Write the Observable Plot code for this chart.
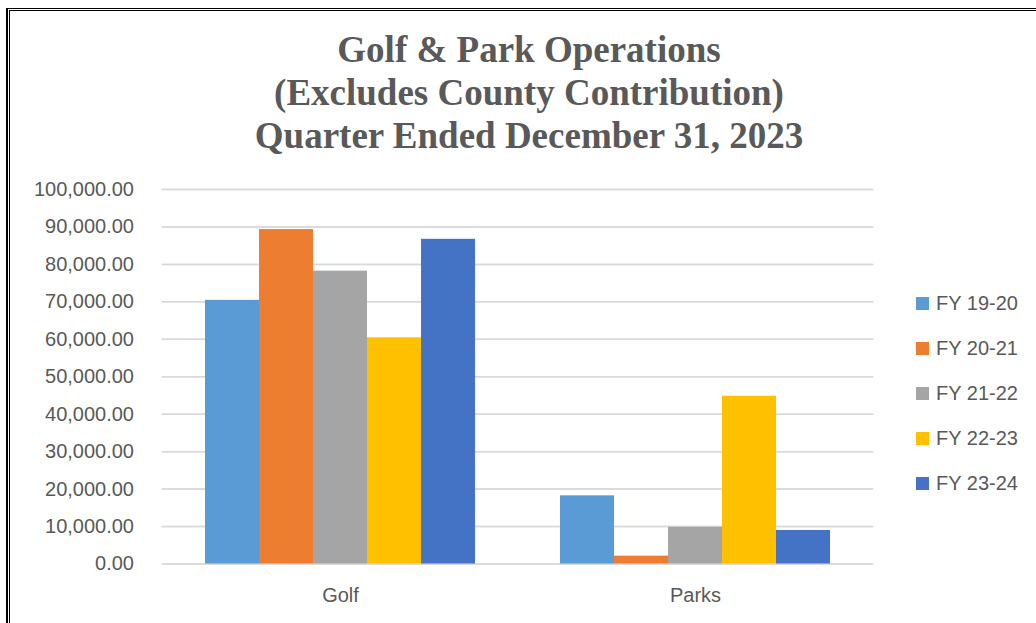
<!DOCTYPE html>
<html>
<head>
<meta charset="utf-8">
<script src="https://cdn.jsdelivr.net/npm/d3@7"></script>
<script src="https://cdn.jsdelivr.net/npm/@observablehq/plot@0.6"></script>
<style>
  html, body { margin: 0; padding: 0; background: #fff; width: 1036px; height: 623px; overflow: hidden; }
  #frame-outer { position: absolute; left: 6px; top: 8px; width: 1100px; height: 700px; border-left: 2px solid #000; border-top: 1px solid #000; }
  #frame-inner { position: absolute; left: 9px; top: 10px; width: 1100px; height: 700px; border-left: 1px solid #000; border-top: 1px solid #000; }
  #title { position: absolute; left: 22px; top: 28px; width: 1014px; text-align: center; font-family: "Liberation Serif", "Times New Roman", serif; font-weight: bold; color: #595959; font-size: 37px; line-height: 43px; }
  #chart { position: absolute; left: 0; top: 160px; }
  #legend { position: absolute; left: 916px; top: 281px; font-family: "Liberation Sans", Arial, sans-serif; font-size: 20px; color: #595959; }
  .item { display: flex; align-items: center; height: 45px; }
  .sw { width: 13px; height: 13px; margin-right: 7px; }
</style>
</head>
<body>
<div id="frame-outer"></div>
<div id="frame-inner"></div>
<div id="title">Golf &amp; Park Operations<br>(Excludes County Contribution)<br>Quarter Ended December 31, 2023</div>
<div id="chart"></div>
<div id="legend"></div>
<script>
const categories = ["Golf", "Parks"];
const series = ["FY 19-20", "FY 20-21", "FY 21-22", "FY 22-23", "FY 23-24"];
const golfValues = [70400, 89300, 78200, 60400, 86700];
const parksValues = [18200, 2100, 9800, 44800, 8950];
const colors = ["#5B9BD5", "#ED7D31", "#A5A5A5", "#FFC000", "#4472C4"];
const yTicks = [0, 10000, 20000, 30000, 40000, 50000, 60000, 70000, 80000, 90000, 100000];

const data = [
  ...golfValues.map((v, i) => ({category: categories[0], series: series[i], value: v})),
  ...parksValues.map((v, i) => ({category: categories[1], series: series[i], value: v}))
];

const chart = Plot.plot({
  width: 1036,
  height: 463,
  marginTop: 29,
  marginBottom: 59.5,
  marginLeft: 162,
  marginRight: 162,
  style: {fontFamily: "'Liberation Sans', Arial, sans-serif", fontSize: "20px", color: "#595959", background: "transparent"},
  fx: {domain: categories, paddingInner: 0.233, paddingOuter: 0.1166, label: null, axis: null},
  x: {domain: series, axis: null, padding: 0},
  y: {domain: [0, 100000], axis: null},
  color: {domain: series, range: colors},
  marks: [
    Plot.ruleY(yTicks, {fx: () => categories[0], stroke: "#d9d9d9", strokeWidth: 1.5, insetLeft: -41.5, insetRight: -397.5}),
    Plot.ruleY(yTicks, {fx: () => categories[1], stroke: "#d9d9d9", strokeWidth: 1.5, insetLeft: -397.5, insetRight: -41.5}),
    Plot.axisY(yTicks, {anchor: "left", tickSize: 0, tickPadding: 70.5, tickFormat: d3.format(",.2f"), label: null, fill: "#595959"}),
    Plot.axisFx({anchor: "bottom", tickSize: 0, tickPadding: 24, label: null, fill: "#595959"}),
    Plot.barY(data, {fx: "category", x: "series", y: "value", fill: "series"})
  ]
});
document.getElementById("chart").appendChild(chart);

const legend = document.getElementById("legend");
series.forEach((s, i) => {
  const row = document.createElement("div");
  row.className = "item";
  const sw = document.createElement("div");
  sw.className = "sw";
  sw.style.background = colors[i];
  const t = document.createElement("span");
  t.textContent = s;
  row.appendChild(sw);
  row.appendChild(t);
  legend.appendChild(row);
});
</script>
</body>
</html>
